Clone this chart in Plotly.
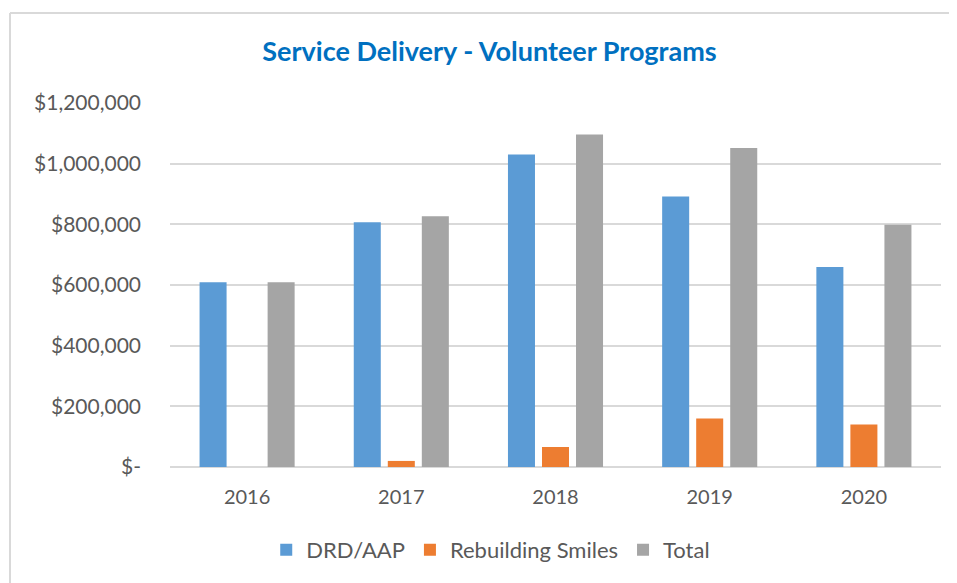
import plotly.graph_objects as go

years = ["2016", "2017", "2018", "2019", "2020"]
drd_aap = [609000, 807000, 1030000, 892000, 659000]
rebuilding_smiles = [0, 20000, 66000, 160000, 140000]
total = [609000, 827000, 1096000, 1052000, 799000]

tick_vals = [0, 200000, 400000, 600000, 800000, 1000000, 1200000]
tick_text = ["$-", "$200,000", "$400,000", "$600,000", "$800,000", "$1,000,000", "$1,200,000"]

FONT = "Lato"
TXT = "#595959"

fig = go.Figure()
fig.add_trace(go.Bar(x=years, y=drd_aap, name="DRD/AAP", marker=dict(color="#5B9BD5", line=dict(width=0))))
fig.add_trace(go.Bar(x=years, y=rebuilding_smiles, name="Rebuilding Smiles", marker=dict(color="#ED7D31", line=dict(width=0))))
fig.add_trace(go.Bar(x=years, y=total, name="Total", marker=dict(color="#A5A5A5", line=dict(width=0))))

border = dict(color="#D9D9D9", width=2)
fig.update_layout(
    width=949, height=575,
    margin=dict(l=162, r=16, t=95, b=116),
    paper_bgcolor="white", plot_bgcolor="white",
    barmode="group", bargap=0.338, bargroupgap=0.206,
    title=dict(text="<b>Service Delivery - Volunteer Programs</b>",
               font=dict(family=FONT, size=27, color="#0070C0"),
               x=0.5074, xanchor="center", xref="container",
               y=0.9235, yanchor="middle", yref="container"),
    font=dict(family=FONT, color=TXT, size=21),
    showlegend=True,
    legend=dict(orientation="h", x=0.416, xanchor="center", y=-0.228, yanchor="middle",
                font=dict(family=FONT, size=22, color=TXT), traceorder="normal"),
    shapes=[
        dict(type="line", xref="paper", yref="paper", x0=-0.2075, x1=1.3, y0=1.247, y1=1.247,
             line=border, layer="below"),
        dict(type="line", xref="paper", yref="paper", x0=-0.2075, x1=-0.2075, y0=-0.6, y1=1.247,
             line=border, layer="below"),
    ],
)
fig.update_xaxes(showgrid=False, showline=False, ticks="", ticklabelstandoff=16,
                 tickfont=dict(family=FONT, size=20, color=TXT))
fig.update_yaxes(range=[0, 1200000], tickvals=tick_vals, ticktext=tick_text,
                 showgrid=True, gridcolor="#D9D9D9", gridwidth=1.5,
                 zeroline=True, zerolinecolor="#D9D9D9", zerolinewidth=1.5,
                 showline=False, ticks="", ticklabelstandoff=28,
                 tickfont=dict(family=FONT, size=21, color=TXT))

fig.write_html("out.html", config={"displayModeBar": False})
